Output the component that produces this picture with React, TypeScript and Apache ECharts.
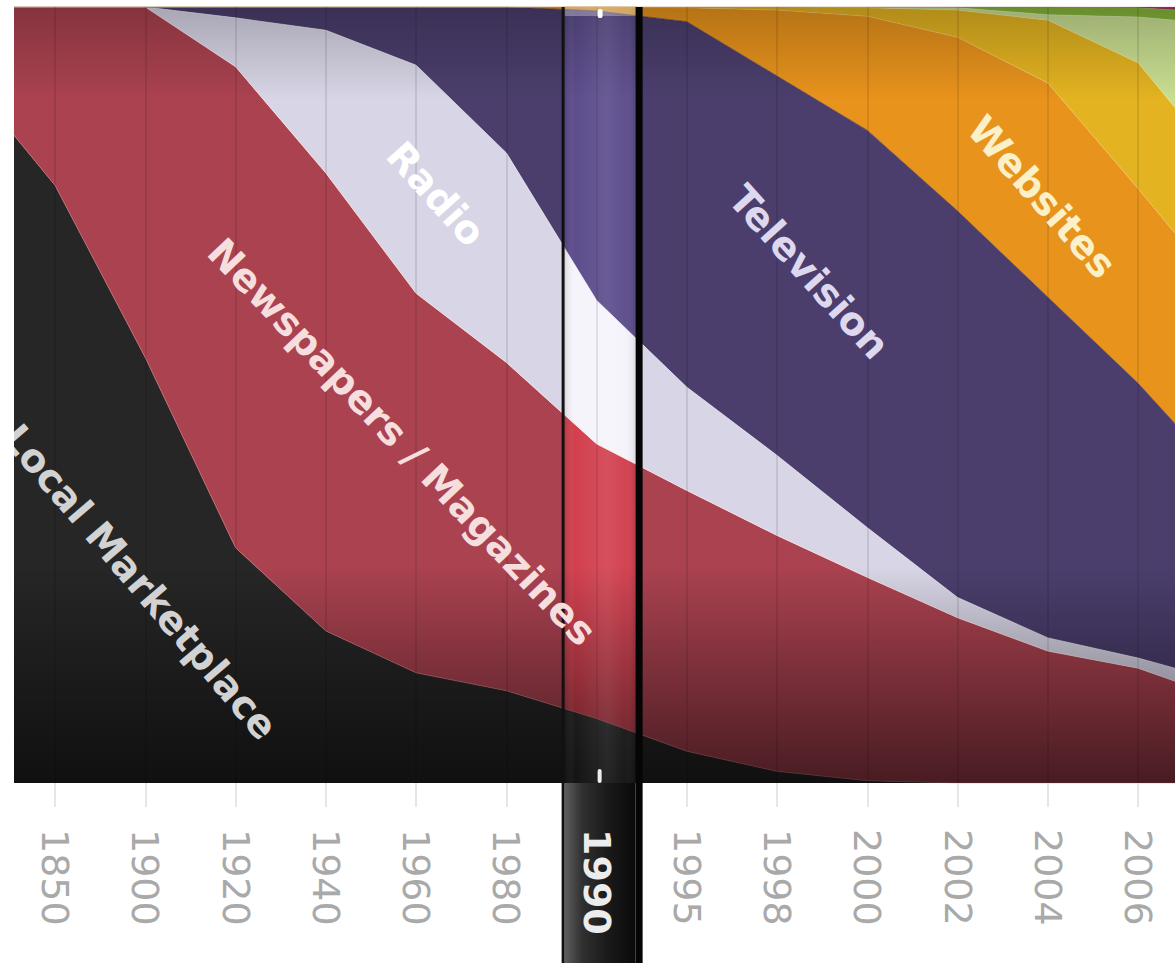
import React, { useEffect, useRef } from "react";
import * as echarts from "echarts";

// ---- data (percent share, 100% stacked) ----
const years = ["1850", "1900", "1920", "1940", "1960", "1980", "1990", "1995", "1998", "2000", "2002", "2004", "2006", "2008"];
const highlightedYear = "1990";
const hiddenYear = "2008"; // lies beyond the right edge of the picture

const seriesNames = ["Local Marketplace", "Newspapers / Magazines", "Radio", "Television", "Websites", "Search", "Social Networks", "Blogs", "Mobile"];

const localMarketplace = [77.0, 54.8, 30.3, 19.6, 14.2, 11.9, 8.3, 4.1, 1.5, 0.3, 0, 0, 0, 0];
const newspapersMagazines = [23.0, 45.2, 62.0, 59.0, 48.9, 42.3, 35.4, 33.6, 30.4, 26.2, 21.3, 17.0, 14.8, 10.7];
const radio = [0, 0, 6.3, 18.4, 29.4, 27.0, 18.5, 13.3, 10.3, 6.4, 2.6, 1.7, 1.3, 2.2];
const television = [0, 0, 1.4, 3.0, 7.5, 18.8, 37.3, 47.1, 48.9, 51.2, 49.8, 43.9, 35.4, 25.9];
const websites = [0, 0, 0, 0, 0, 0, 0.5, 1.8, 8.5, 14.7, 22.4, 27.6, 25.1, 23.7];
const search = [0, 0, 0, 0, 0, 0, 0, 0.1, 0.4, 1.1, 3.5, 8.1, 16.2, 16.2];
const socialNetworks = [0, 0, 0, 0, 0, 0, 0, 0, 0, 0.1, 0.3, 0.7, 5.9, 19.0];
const blogs = [0, 0, 0, 0, 0, 0, 0, 0, 0, 0, 0.1, 1.0, 1.2, 1.5];
const mobile = [0, 0, 0, 0, 0, 0, 0, 0, 0, 0, 0, 0, 0.1, 0.8];
// shares at the left edge of the plot, half a step before 1850
const leftEdge = [84.1, 15.9, 0, 0, 0, 0, 0, 0, 0];

const seriesValues = [localMarketplace, newspapersMagazines, radio, television, websites, search, socialNetworks, blogs, mobile];
const seriesColors = ["#262626", "#ab4250", "#d8d5e6", "#4b3e6d", "#e8931c", "#e3b321", "#c9df91", "#86b63a", "#a8306e"];
const lensColors = ["#2e2e2e", "#d2404f", "#f6f4fb", "#5d4d8d", "#f5a225", "#f0c030", "#d5eaa0", "#95c845", "#c03a80"];
const seriesLineColors = ["rgba(200,110,120,0.8)", "rgba(255,225,225,0.8)", "rgba(255,255,255,0.6)", "rgba(60,50,90,0.6)", "rgba(255,200,120,0.5)", "rgba(255,230,140,0.5)", "rgba(230,245,200,0.5)", "rgba(160,210,90,0.5)", "rgba(200,80,140,0.5)"];

const areaLabels = [
  { text: "Local Marketplace", x: 140, y: 582, angle: 49.5, color: "#d2d2d2" },
  { text: "Newspapers / Magazines", x: 402, y: 442, angle: 46.5, color: "#f6dede" },
  { text: "Radio", x: 436, y: 194, angle: 48, color: "#ffffff" },
  { text: "Television", x: 809, y: 272, angle: 48, color: "#ddd8ee" },
  { text: "Websites", x: 1042, y: 197, angle: 48.5, color: "#fbf0c8" },
];

const GRID = { left: 10, top: 7, width: 1263.5, height: 776 };
const PAGE_H = 963;

type Lens = { cx: number; step: number };

function makeSeries(stack: string, xAxisIndex: number, yAxisIndex: number, colors: string[], z: number) {
  // value first, position second, so that the stack is taken on the value (y) dimension
  return seriesNames.map((name, k) => ({
    name,
    type: "line",
    stack,
    xAxisIndex,
    yAxisIndex,
    symbol: "none",
    z,
    clip: true,
    encode: { x: 1, y: 0 },
    lineStyle: { color: seriesLineColors[k], width: 1 },
    areaStyle: { color: colors[k], opacity: 1 },
    data: [[leftEdge[k], -0.5], ...seriesValues[k].map((v, i) => [v, i])],
  }));
}

function buildOption(lens: Lens | null) {
  const bottomY = GRID.top + GRID.height;
  const grids: any[] = [{ ...GRID, containLabel: false, outerBoundsMode: "none" }];
  const xAxes: any[] = [
    {
      type: "category",
      gridIndex: 0,
      position: "bottom",
      boundaryGap: true,
      z: 4,
      data: years.map((y) =>
        y === highlightedYear ? { value: y, textStyle: { color: "#ececec", fontWeight: "bold" } } : y
      ),
      axisLine: { show: true, lineStyle: { color: "#3a3a3a", width: 4, shadowBlur: 3, shadowColor: "rgba(0,0,0,0.35)", shadowOffsetY: 2 } },
      axisTick: {
        show: true,
        alignWithLabel: true,
        length: 24,
        interval: (i: number, v: string) => v !== highlightedYear,
        lineStyle: { color: "#e6e6e6", width: 2 },
      },
      axisLabel: {
        rotate: -90, margin: 46, fontSize: 38, fontFamily: "DejaVu Sans", color: "#a9a9a9",
        interval: (i: number, v: string) => v !== hiddenYear,
      },
      splitLine: { show: true, alignWithLabel: true, interval: 0, lineStyle: { color: "rgba(0,0,0,0.13)", width: 1.5 } },
    },
    { type: "value", gridIndex: 0, position: "top", min: -0.5, max: years.length - 0.5, show: false },
  ];
  const yAxes: any[] = [{ type: "value", gridIndex: 0, min: 0, max: 100, show: false }];
  const series: any[] = makeSeries("total", 1, 0, seriesColors, 2);
  const graphic: any[] = [];

  if (lens) {
    const { cx, step } = lens;
    const idx = years.indexOf(highlightedYear);
    const sL = cx - 35;
    const sR = cx + 46;
    const inL = sL + 3;
    const inR = sR - 7;
    const LG = echarts.graphic.LinearGradient;

    grids.push({ left: inL, top: GRID.top, width: inR - inL, height: GRID.height, containLabel: false, outerBoundsMode: "none" });
    xAxes.push({ type: "value", gridIndex: 1, min: idx + (inL - cx) / step, max: idx + (inR - cx) / step, show: false });
    yAxes.push({ type: "value", gridIndex: 1, min: 0, max: 100, show: false });
    series.push(...makeSeries("lens", 2, 1, lensColors, 2.5));

    graphic.push(
      {
        type: "rect", z: 3, silent: true,
        shape: { x: GRID.left, y: GRID.top, width: GRID.width, height: GRID.height },
        style: {
          fill: new LG(0, 0, 0, 1, [
            { offset: 0, color: "rgba(0,0,0,0.22)" },
            { offset: 0.12, color: "rgba(0,0,0,0)" },
            { offset: 0.72, color: "rgba(0,0,0,0)" },
            { offset: 1, color: "rgba(0,0,0,0.58)" },
          ]),
        },
      },
      // slider lower bar
      {
        type: "rect", z: 3.5, silent: true,
        shape: { x: inL, y: bottomY, width: inR - inL, height: PAGE_H - bottomY },
        style: {
          fill: new LG(0, 0, 1, 0, [
            { offset: 0, color: "#5e5e5e" },
            { offset: 0.25, color: "#303030" },
            { offset: 0.6, color: "#1a1a1a" },
            { offset: 1, color: "#0a0a0a" },
          ]),
        },
      },
      // slider lens highlight
      {
        type: "rect", z: 5, silent: true,
        shape: { x: inL, y: GRID.top, width: inR - inL, height: GRID.height },
        style: {
          fill: new LG(0, 0, 1, 0, [
            { offset: 0, color: "rgba(0,0,0,0.12)" },
            { offset: 0.15, color: "rgba(255,255,255,0)" },
            { offset: 0.6, color: "rgba(255,255,255,0.08)" },
            { offset: 0.85, color: "rgba(255,255,255,0.02)" },
            { offset: 1, color: "rgba(0,0,0,0.1)" },
          ]),
        },
      },
      {
        type: "rect", z: 5, silent: true,
        shape: { x: inL, y: GRID.top, width: inR - inL, height: 9 },
        style: { fill: "rgba(255,255,255,0.3)" },
      },
      { type: "rect", z: 6, silent: true, shape: { x: sL, y: GRID.top, width: 3, height: PAGE_H - GRID.top }, style: { fill: "#111111" } },
      { type: "rect", z: 6, silent: true, shape: { x: inR, y: GRID.top, width: 7, height: PAGE_H - GRID.top }, style: { fill: "#050505" } },
      { type: "rect", z: 6, silent: true, shape: { x: cx + 1, y: 9, width: 5, height: 9, r: 2 }, style: { fill: "#ffffff" } },
      { type: "rect", z: 6, silent: true, shape: { x: cx + 1, y: bottomY - 14, width: 4, height: 14, r: 2 }, style: { fill: "#eeeeee" } },
      ...areaLabels.map((l) => ({
        type: "text", z: 7, silent: true,
        x: l.x, y: l.y, rotation: (-l.angle * Math.PI) / 180,
        style: {
          text: l.text, fill: l.color,
          fontSize: 39, fontFamily: "DejaVu Sans", fontWeight: "bold",
          align: "center", verticalAlign: "middle",
          textAlign: "center", textVerticalAlign: "middle",
        },
      })),
      // white page margin clipping the plot's left edge
      { type: "rect", z: 8, silent: true, shape: { x: 0, y: 0, width: 14, height: bottomY + 8 }, style: { fill: "#ffffff" } }
    );
  }

  return {
    animation: false,
    backgroundColor: "#ffffff",
    grid: grids,
    xAxis: xAxes,
    yAxis: yAxes,
    series,
    graphic,
  };
}

export default function App() {
  const ref = useRef<HTMLDivElement>(null);
  useEffect(() => {
    const el = ref.current!;
    const chart = echarts.init(el, null, { renderer: "svg" });
    chart.setOption(buildOption(null));
    const cx = chart.convertToPixel({ xAxisIndex: 0 }, highlightedYear) as number;
    const next = chart.convertToPixel({ xAxisIndex: 0 }, years[years.indexOf(highlightedYear) + 1]) as number;
    chart.setOption(buildOption({ cx, step: next - cx }), true);
    return () => chart.dispose();
  }, []);
  return <div ref={ref} style={{ position: "fixed", left: 0, top: 0, width: 1175, height: PAGE_H }} />;
}
